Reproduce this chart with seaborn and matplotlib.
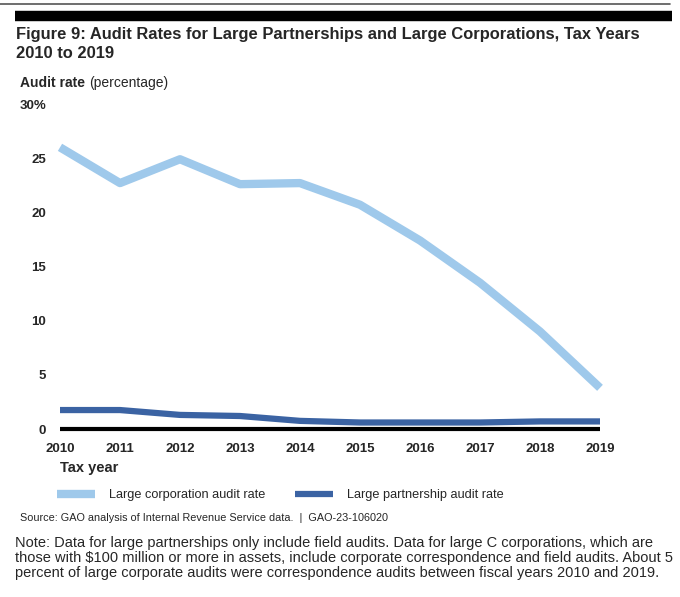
import numpy as np
import matplotlib
matplotlib.use('Agg')
import matplotlib.pyplot as plt
import pandas as pd
import seaborn as sns
from matplotlib.lines import Line2D

# dane
years = [2010, 2011, 2012, 2013, 2014, 2015, 2016, 2017, 2018, 2019]
corp_rate = [26.0, 22.7, 24.9, 22.6, 22.7, 20.7, 17.4, 13.5, 9.0, 3.8]
partner_rate = [1.75, 1.75, 1.3, 1.2, 0.75, 0.6, 0.6, 0.6, 0.7, 0.7]
series_names = ['Large corporation audit rate', 'Large partnership audit rate']
ytick_vals = [0, 5, 10, 15, 20, 25, 30]
ytick_labels = ['0', '5', '10', '15', '20', '25', '30%']

sns.set_theme(style='white')
plt.rcParams['font.family'] = ['Liberation Sans', 'DejaVu Sans']

df = pd.DataFrame({
    'year': years * 2,
    'rate': corp_rate + partner_rate,
    'series': [series_names[0]] * len(years) + [series_names[1]] * len(years),
})

colors = {series_names[0]: '#9fc9eb', series_names[1]: '#3b63a3'}
widths = {series_names[0]: 6.0, series_names[1]: 4.5}

fig = plt.figure(figsize=(6.8, 5.97), dpi=100)
ax = fig.add_axes([60 / 680, 1 - 429 / 597, 540 / 680, 325 / 597])

ax.axhline(0, color='black', lw=3, zorder=1, clip_on=False, solid_capstyle='butt')
for name in series_names:
    sns.lineplot(data=df[df['series'] == name], x='year', y='rate',
                 color=colors[name], lw=widths[name], ax=ax, legend=False,
                 clip_on=False, zorder=2, solid_capstyle='butt')

ax.set_xlim(2010, 2019)
ax.set_ylim(0, 30)
ax.set_xticks(years)
ax.set_xticklabels([str(y) for y in years], fontweight='bold', fontsize=9.5)
ax.set_yticks(ytick_vals)
ax.set_yticklabels(ytick_labels, fontweight='bold', fontsize=9.5)
ax.tick_params(axis='x', length=0, pad=10)
ax.tick_params(axis='y', length=0, pad=10)
ax.set_xlabel('')
ax.set_ylabel('')
sns.despine(ax=ax, left=True, bottom=True)

# ramka u gory
fig.add_artist(Line2D([0, 670 / 680], [1 - 4 / 597] * 2, color='#555555', lw=1.2))
fig.add_artist(Line2D([15 / 680, 672 / 680], [1 - 16 / 597] * 2, color='black', lw=7.5,
                      solid_capstyle='butt'))

fig.text(16 / 680, 1 - 35 / 597, 'Figure 9: Audit Rates for Large Partnerships and Large Corporations, Tax Years',
         fontsize=11.9, fontweight='bold', va='center')
fig.text(16 / 680, 1 - 53 / 597, '2010 to 2019', fontsize=11.9, fontweight='bold', va='center')

fig.text(20 / 680, 1 - 83 / 597, 'Audit rate', fontsize=10, fontweight='bold', va='center')
fig.text(89 / 680, 1 - 83 / 597, '(percentage)', fontsize=10, va='center')

fig.text(60 / 680, 1 - 468 / 597, 'Tax year', fontsize=10.5, fontweight='bold', va='center')

handles = [Line2D([], [], color=colors[n], lw=widths[n], solid_capstyle='butt') for n in series_names]
fig.legend(handles, series_names, loc='center left', bbox_to_anchor=(54 / 680, 1 - 495 / 597),
           ncol=2, frameon=False, fontsize=9.2, handlelength=3.0, columnspacing=2.3,
           handletextpad=1.1, borderpad=0.2, borderaxespad=0)

fig.text(20 / 680, 1 - 518 / 597, 'Source: GAO analysis of Internal Revenue Service data.  |  GAO-23-106020',
         fontsize=7.8, va='center')

note = ('Note: Data for large partnerships only include field audits. Data for large C corporations, which are\n'
        'those with $100 million or more in assets, include corporate correspondence and field audits. About 5\n'
        'percent of large corporate audits were correspondence audits between fiscal years 2010 and 2019.')
fig.text(15 / 680, 1 - 536 / 597, note, fontsize=10.5, va='top', linespacing=1.08)

plt.savefig('out.png', dpi=100)
